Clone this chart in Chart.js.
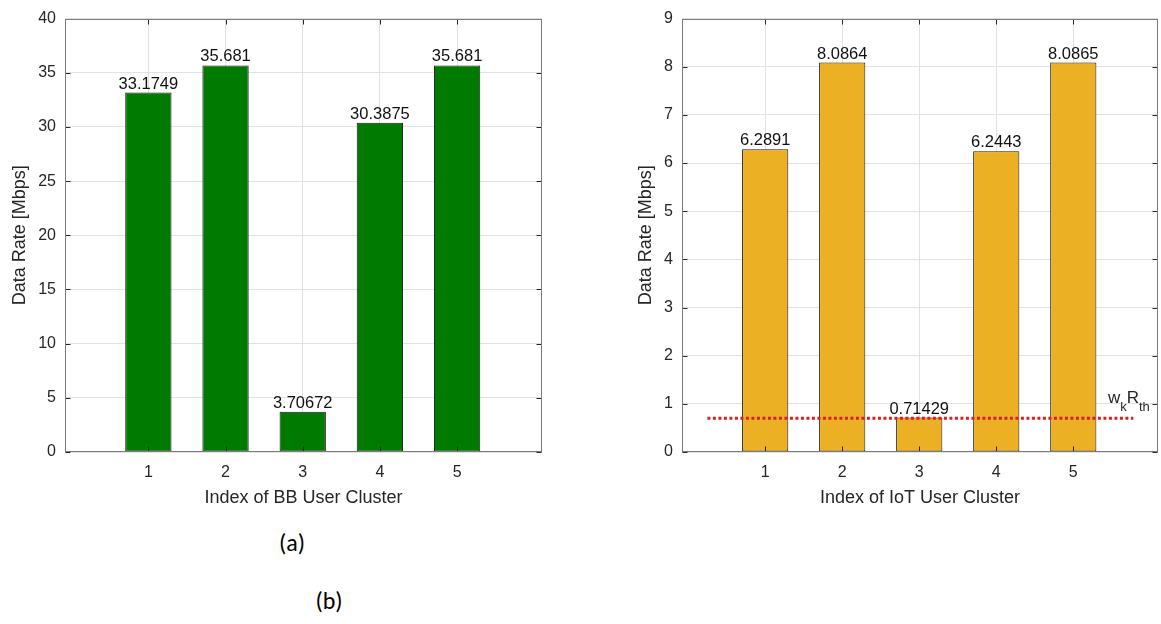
<!DOCTYPE html>
<html>
<head>
<meta charset="utf-8">
<script src="https://cdn.jsdelivr.net/npm/chart.js@4/dist/chart.umd.min.js"></script>
<style>
  body { margin: 0; background: #fff; width: 1161px; height: 624px; position: relative; overflow: hidden; }
  canvas { position: absolute; top: 0; }
  #bbChart { left: 0; }
  #iotChart { left: 620px; }
  .panel-tag { position: absolute; font-family: Carlito, Lato, 'Open Sans', sans-serif; font-size: 24px; color: #000; transform: translate(-50%, -50%); }
</style>
</head>
<body>
<canvas id="bbChart" width="560" height="520"></canvas>
<canvas id="iotChart" width="541" height="520"></canvas>
<div class="panel-tag" style="left:292px; top:542px;">(a)</div>
<div class="panel-tag" style="left:329px; top:600px;">(b)</div>
<script>
const clusterIndex = [1, 2, 3, 4, 5];
const bbRates = [33.1749, 35.681, 3.70672, 30.3875, 35.681];
const iotRates = [6.2891, 8.0864, 0.71429, 6.2443, 8.0865];
const thresholdX = [0.25, 5.78];
const thresholdY = [0.7, 0.7];

const textColor = '#262626';
const fontFamily = "'Liberation Sans', Arial, Helvetica, sans-serif";

// box around the plot + matlab style inner ticks
const boxPlugin = {
    id: 'boxTicks',
    afterDatasetsDraw(chart) {
        const {ctx, chartArea: a, scales: {x, y}} = chart;
        const L = Math.round(a.left) + 0.5, R = Math.round(a.right) - 0.5;
        const T = Math.round(a.top) + 0.5, B = Math.round(a.bottom) - 0.5;
        ctx.save();
        ctx.strokeStyle = textColor;
        ctx.lineWidth = 1;
        ctx.beginPath();
        y.ticks.forEach(t => {
            const py = Math.round(y.getPixelForValue(t.value)) + 0.5;
            ctx.moveTo(L, py); ctx.lineTo(L + 5, py);
            ctx.moveTo(R, py); ctx.lineTo(R - 5, py);
        });
        x.ticks.forEach(t => {
            const px = Math.round(x.getPixelForValue(t.value)) + 0.5;
            ctx.moveTo(px, B); ctx.lineTo(px, B - 5);
            ctx.moveTo(px, T); ctx.lineTo(px, T + 5);
        });
        ctx.stroke();
        ctx.strokeStyle = '#7c7c7c';
        ctx.strokeRect(L, T, R - L, B - T);
        ctx.restore();
    }
};

// numbers printed on top of each bar
const valueLabels = {
    id: 'valueLabels',
    afterDatasetsDraw(chart) {
        const {ctx} = chart;
        chart.data.datasets.forEach((ds, i) => {
            if (ds.type !== 'bar') return;
            const meta = chart.getDatasetMeta(i);
            ctx.save();
            ctx.font = '16.5px ' + fontFamily;
            ctx.fillStyle = '#111';
            ctx.textAlign = 'center';
            ctx.textBaseline = 'alphabetic';
            meta.data.forEach((bar, j) => {
                ctx.fillText(String(ds.data[j].y), bar.x, bar.y - 4);
            });
            ctx.restore();
        });
    }
};

// w_k R_th label above the end of the threshold line
const thresholdLabel = {
    id: 'thresholdLabel',
    afterDatasetsDraw(chart) {
        const {ctx, scales: {x, y}} = chart;
        let px = x.getPixelForValue(thresholdX[1] - 0.33);
        const py = y.getPixelForValue(thresholdY[1]) - 15;
        const parts = [['w', 0], ['k', 1], ['R', 0], ['th', 1]];
        ctx.save();
        ctx.fillStyle = textColor;
        ctx.textAlign = 'left';
        ctx.textBaseline = 'alphabetic';
        parts.forEach(([s, sub]) => {
            ctx.font = (sub ? '13px ' : '17px ') + fontFamily;
            ctx.fillText(s, px, py + (sub ? 8 : 0));
            px += ctx.measureText(s).width;
        });
        ctx.restore();
    }
};

function makeChart(canvasId, values, color, yMax, xTitle, yAxisWidth, yTitlePad, extraSets, padRight, extraPlugins) {
    const datasets = [{
        type: 'bar',
        data: clusterIndex.map((c, i) => ({x: c, y: values[i]})),
        backgroundColor: color,
        borderColor: '#1a1a1a',
        borderWidth: 1,
        borderSkipped: false,
        categoryPercentage: 1,
        barPercentage: 0.6,
        order: 2
    }].concat(extraSets);

    return new Chart(document.getElementById(canvasId), {
        data: {datasets: datasets},
        options: {
            responsive: false,
            animation: false,
            layout: {padding: {top: 16, right: padRight, left: 0, bottom: 0}},
            plugins: {legend: {display: false}, tooltip: {enabled: false}},
            scales: {
                x: {
                    type: 'linear',
                    min: -0.08,
                    max: 6.1,
                    offset: false,
                    afterBuildTicks: s => { s.ticks = clusterIndex.map(v => ({value: v})); },
                    afterFit: s => { s.height = 68; },
                    grid: {color: '#e2e2e2', drawTicks: false, offset: false},
                    border: {display: false},
                    ticks: {color: textColor, font: {size: 16, family: fontFamily}, padding: 11},
                    title: {display: true, text: xTitle, color: textColor,
                        font: {size: 18, family: fontFamily}, padding: {top: 0, bottom: 11}}
                },
                y: {
                    min: 0,
                    max: yMax,
                    ticks: {stepSize: yMax / 8 >= 5 ? 5 : 1, color: textColor,
                        font: {size: 16, family: fontFamily}, padding: 9},
                    afterFit: s => { s.width = yAxisWidth; },
                    grid: {color: '#e2e2e2', drawTicks: false},
                    border: {display: false},
                    title: {display: true, text: 'Data Rate [Mbps]', color: textColor,
                        font: {size: 18, family: fontFamily}, padding: {top: yTitlePad, bottom: 0}}
                }
            }
        },
        plugins: [boxPlugin, valueLabels].concat(extraPlugins)
    });
}

makeChart('bbChart', bbRates, '#007a00', 40, 'Index of BB User Cluster', 65, 9, [], 18, []);

makeChart('iotChart', iotRates, '#ebb023', 9, 'Index of IoT User Cluster', 62, 15, [{
    type: 'line',
    data: thresholdX.map((v, i) => ({x: v, y: thresholdY[i]})),
    borderColor: '#dc1e1e',
    borderWidth: 3,
    borderDash: [3, 2.5],
    pointRadius: 0,
    fill: false,
    order: 1
}], 3, [thresholdLabel]);
</script>
</body>
</html>
